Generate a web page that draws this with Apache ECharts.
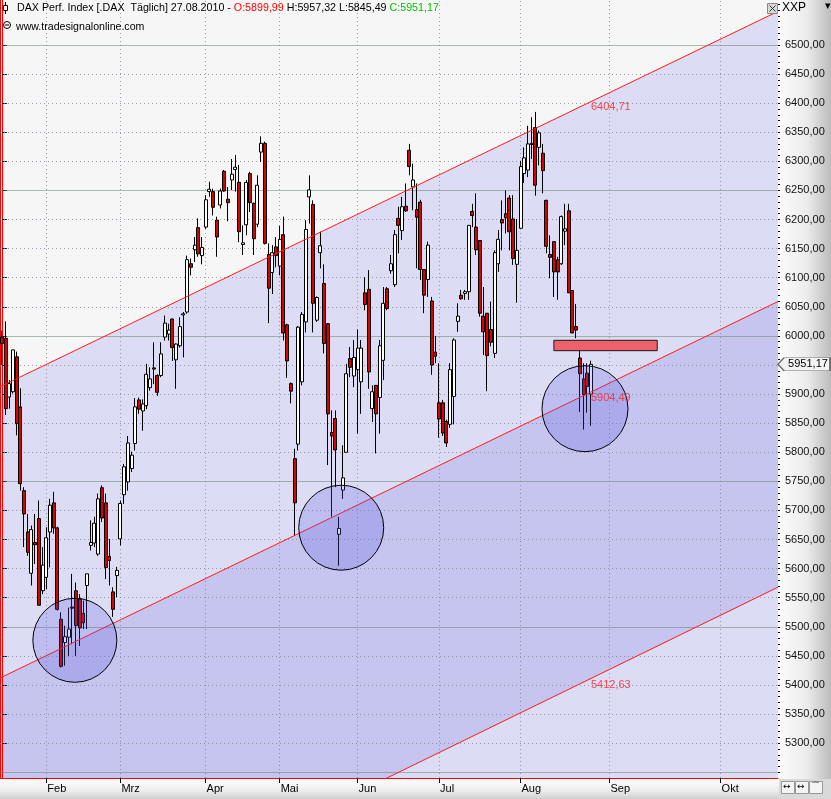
<!DOCTYPE html>
<html><head><meta charset="utf-8">
<script src="https://cdn.jsdelivr.net/npm/echarts@6/dist/echarts.min.js"></script>
<style>html,body{margin:0;padding:0;background:#fff}#c{width:831px;height:799px}</style>
</head><body><div id="c"></div>
<script>
const FONT = '"Liberation Sans", Arial, sans-serif';

// ---- daily candles (DAX), 14.01.2010 .. 27.08.2010 ----
const opens = [5998,5996,5895,5904,5964,5878,5734,5663,5592,5645,
5686,5562,5585,5663,5713,5670,5513,5473,5482,5534,
5562,5548,5523,5571,5640,5644,5625,5739,5713,5621,
5560,5588,5651,5727,5749,5772,5815,5890,5871,5880,
5911,5945,5932,5932,5998,6003,6029,5959,5983,6036,
6041,6124,6148,6186,6138,6187,6248,6248,6199,6225,
6283,6235,6268,6286,6264,6157,6191,6279,6228,6192,
6316,6331,6140,6109,6153,6120,6174,6019,5918,5789,
5814,5921,6024,6239,6226,6027,6143,6090,6021,5834,
5858,5659,5735,5800,5961,5931,5942,5921,6074,6080,
5875,5915,5894,5958,6081,6112,6088,6202,6181,6223,
6319,6256,6217,6230,6114,6097,6060,5972,5885,5885,
5853,5848,5896,6025,6070,6073,6076,6214,6187,6164,
6034,6039,6011,5970,6124,6200,6210,6237,6201,6123,
6185,6279,6285,6329,6358,6324,6314,6233,6140,6162,
6131,6124,6180,6215,6078,6016,5962,5926,5936,5899.99];
const highs = [6009,6025,5924,5976,5973,5910,5740,5694,5674,5694,
5717,5637,5671,5720,5732,5672,5525,5502,5533,5591,
5576,5556,5545,5591,5683,5689,5729,5743,5729,5651,
5568,5603,5717,5780,5828,5801,5893,5894,5891,5952,
5946,5989,5934,5989,6035,6021,6030,5987,6032,6041,
6138,6133,6170,6202,6170,6242,6265,6253,6205,6253,
6285,6256,6304,6311,6294,6190,6268,6282,6229,6276,
6343,6334,6159,6156,6170,6189,6205,6021,5920,5806,
6017,6041,6199,6276,6233,6068,6179,6123,6022,5872,
5872,5689,5812,5952,5981,5993,6011,5993,6101,6113,
5915,5915,5993,6084,6084,6139,6182,6222,6239,6262,
6330,6296,6262,6234,6114,6162,6067,6000,5953,5890,
5856,5953,5996,6056,6079,6079,6190,6227,6245,6164,
6084,6039,6059,6147,6182,6233,6250,6242,6242,6201,
6301,6324,6361,6376,6385,6353,6330,6234,6173,6162,
6136,6207,6227,6227,6078,6055,5976,5953,5953,5957.32];
const lows = [5950,5864,5875,5901,5829,5734,5637,5622,5571,5608,
5537,5556,5565,5602,5660,5528,5430,5433,5450,5470,
5450,5467,5496,5496,5631,5637,5622,5680,5582,5571,
5517,5551,5640,5711,5734,5766,5803,5866,5837,5874,
5906,5917,5897,5929,5992,5992,5957,5909,5980,5963,
6038,6104,6127,6136,6123,6184,6239,6207,6136,6219,
6248,6197,6251,6248,6161,6139,6173,6213,6139,6187,
6299,6157,6022,6072,6118,6104,5992,5928,5884,5657,
5803,5915,6006,6193,6006,6024,6116,5970,5778,5689,
5740,5605,5720,5800,5929,5912,5832,5866,6044,5909,
5852,5798,5832,5924,6044,6107,6084,6142,6165,6213,
6276,6216,6116,6096,6039,6067,5933,5953,5825,5828,
5809,5842,5848,6007,6062,6062,6062,6187,6139,6033,
5967,5905,5982,5962,6110,6147,6176,6147,6122,6057,
6185,6263,6273,6304,6241,6293,6245,6142,6099,6067,
6062,6122,6156,6074,6005,5996,5869,5839,5868,5845.49];
const closes = [5987,5875,5918,5976,5849,5746,5694,5628,5667,5641,
5537,5606,5653,5709,5670,5530,5432,5483,5496,5532,
5502,5498,5507,5591,5645,5678,5720,5687,5602,5614,
5530,5597,5712,5775,5816,5795,5878,5874,5883,5934,
5926,5943,5903,5969,6022,6010,5980,5986,6016,6038,
6131,6118,6156,6141,6152,6234,6252,6221,6170,6249,
6249,6229,6278,6290,6179,6160,6264,6229,6167,6259,
6331,6159,6082,6143,6138,6166,6005,5957,5905,5713,
6015,6037,6183,6251,6056,6066,6155,5987,5866,5828,
5804,5669,5756,5935,5946,5963,5979,5979,6054,5938,
5904,5866,5983,6056,6047,6124,6174,6190,6222,6215,
6291,6268,6204,6114,6070,6156,5950,5965,5857,5833,
5816,5942,5993,6034,6064,6076,6190,6207,6148,6039,
6007,5966,5989,6143,6166,6194,6203,6179,6133,6147,
6291,6306,6330,6331,6259,6349,6284,6154,6135,6110,
6110,6205,6184,6074,6005,6010,5935,5899,5913,5951.17];

// ---- x axis: trading days, then calendar days into the future ----
const firstDay = '2010-01-14';
const lastTradingDay = '2010-08-27';
const holidays = ['2010-04-02', '2010-04-05'];
const futureDays = 50;
const monthNames = ['Jan','Feb','Mrz','Apr','Mai','Jun','Jul','Aug','Sep','Okt','Nov','Dez'];

// ---- y axis ----
const yMin = 5240.1, yMax = 6577.35;
const yLabelValues = [5300,5350,5400,5450,5500,5550,5600,5650,5700,5750,5800,5850,5900,5950,
  6000,6050,6100,6150,6200,6250,6300,6350,6400,6450,6500];
const yMajorLines = [5250,5500,5750,6000,6250,6500];

// ---- channel (values at left / right plot edge, slot -0.5 / 209.5) ----
const channelStart = [5912.6, 5411.9, 4915.6];
const channelEnd = [6557.8, 6059.1, 5568.1];
const channelLabelValues = [6404.71, 5904.49, 5412.63];
const channelLabelSlot = 159;

// ---- drawing annotations ----
const circleCenters = [[19.7, 5476.8], [91.6, 5670.3], [157.4, 5874.9]];
const circleSizes = [84, 85, 86];
const gapZone = [[149, 5992.4], [176.9, 5974.6]];

// ---------------------------------------------------------------
const fmt2 = v => v.toFixed(2).replace('.', ',');
function iso(d) { return d.toISOString().slice(0, 10); }
const categories = [];
{
  let d = new Date(firstDay + 'T00:00:00Z');
  const end = new Date(lastTradingDay + 'T00:00:00Z');
  while (d <= end) {
    const wd = d.getUTCDay(), s = iso(d);
    if (wd !== 0 && wd !== 6 && !holidays.includes(s)) categories.push(s);
    d = new Date(d.getTime() + 86400000);
  }
  for (let k = 0; k < futureDays; k++) { categories.push(iso(d)); d = new Date(d.getTime() + 86400000); }
}
const N = categories.length;
const monthStarts = [];
for (let i = 1; i < N; i++) if (categories[i].slice(5, 7) !== categories[i - 1].slice(5, 7)) monthStarts.push(i);
const isMonthStart = i => monthStarts.includes(i);

const minorTicks = [];
for (let v = 5250; v <= 6570; v += 10) minorTicks.push(v);

const candleData = opens.map((o, i) => [o, closes[i], lows[i], highs[i]]);
const last = opens.length - 1;

const gridLineData = [];
yLabelValues.concat([5250]).forEach(v => {
  if (!yMajorLines.includes(v)) gridLineData.push({ yAxis: v, lineStyle: { color: 'rgba(120,120,140,0.7)', type: [1, 3], width: 1 } });
});
yMajorLines.forEach(v => gridLineData.push({ yAxis: v, lineStyle: { color: 'rgba(95,125,100,0.5)', type: 'solid', width: 1 } }));
monthStarts.forEach(i => gridLineData.push({ xAxis: i, lineStyle: { color: 'rgba(120,120,140,0.7)', type: [1, 3], width: 1 } }));

const bandColors = ['#dcdcf4', '#c5c5f0', '#dcdcf4'];
const bandSeries = [0, 1, 2].map(k => ({
  type: 'line', xAxisIndex: 1, yAxisIndex: 0, silent: true, z: 0,
  data: [[-0.5, channelStart[k]], [N - 0.5, channelEnd[k]]],
  symbol: 'none', lineStyle: { width: 0, opacity: 0 },
  areaStyle: { color: bandColors[k], opacity: 1, origin: 'start' }
}));
const channelLines = [0, 1, 2].map(k => ({
  type: 'line', xAxisIndex: 1, yAxisIndex: 0, silent: true, z: 4,
  data: [[-0.5, channelStart[k]], [N - 0.5, channelEnd[k]]],
  symbol: 'none', lineStyle: { width: 1, color: '#ff1a1a' }
}));

const chart = echarts.init(document.getElementById('c'), null, { renderer: 'canvas' });
const option = {
  animation: false,
  backgroundColor: '#ffffff',
  title: [{
    left: 12, top: -2,
    text: '{n|DAX Perf. Index [.DAX  Täglich] 27.08.2010 - }{o|O:' + fmt2(opens[last]) + '}{n| H:' + fmt2(highs[last]) + ' L:' + fmt2(lows[last]) + ' }{c|C:' + fmt2(closes[last]) + '}',
    textStyle: {
      fontFamily: FONT, fontSize: 10.7, fontWeight: 'normal', color: '#000',
      rich: {
        n: { fontFamily: FONT, fontSize: 10.7, color: '#000' },
        o: { fontFamily: FONT, fontSize: 10.7, color: '#ff0000' },
        c: { fontFamily: FONT, fontSize: 10.7, color: '#00c000' }
      }
    }
  }, {
    left: 11, top: 17, text: 'www.tradesignalonline.com',
    textStyle: { fontFamily: FONT, fontSize: 10.6, fontWeight: 'normal', color: '#000' }
  }],
  grid: { left: 0, right: 53, top: 0, bottom: 21, show: true, backgroundColor: '#f6f6f6', borderWidth: 0 },
  xAxis: [{
    type: 'category', data: categories, boundaryGap: true,
    axisLine: { show: true, lineStyle: { color: '#ff0000', width: 1 } },
    axisTick: { show: true, alignWithLabel: true, interval: (i) => isMonthStart(i), length: 5, lineStyle: { color: '#000' } },
    axisLabel: {
      interval: (i) => isMonthStart(i),
      formatter: (val) => monthNames[parseInt(val.slice(5, 7), 10) - 1],
      align: 'left', margin: 5, padding: [0, 0, 0, 1],
      fontFamily: FONT, fontSize: 11, color: '#000'
    },
    splitLine: { show: false }
  }, {
    type: 'value', min: -0.5, max: N - 0.5, show: false
  }],
  yAxis: [{
    type: 'value', min: yMin, max: yMax, position: 'right', scale: true,
    axisLine: { show: true, lineStyle: { color: '#ff0000', width: 1 } },
    axisTick: { show: true, customValues: yLabelValues, length: 5, lineStyle: { color: '#000' } },
    axisLabel: { customValues: yLabelValues, formatter: v => fmt2(v), margin: 7, fontFamily: FONT, fontSize: 11, color: '#111' },
    splitLine: { show: false }
  }, {
    type: 'value', min: yMin, max: yMax, position: 'right', scale: true,
    axisLine: { show: false },
    axisTick: { show: true, customValues: minorTicks, length: 2, lineStyle: { color: '#000' } },
    axisLabel: { show: false }, splitLine: { show: false }
  }, {
    type: 'value', min: yMin, max: yMax, position: 'left', scale: true,
    axisLine: { show: true, lineStyle: { color: '#ff0000', width: 2 } },
    axisTick: { show: false }, axisLabel: { show: false }, splitLine: { show: false }
  }],
  graphic: [
    { type: 'rect', z: -10, shape: { x: 779, y: 0, width: 52, height: 779 },
      style: { fill: new echarts.graphic.LinearGradient(0, 0, 1, 0, [{ offset: 0, color: '#fcfcfc' }, { offset: 0.55, color: '#ebebeb' }, { offset: 1, color: '#bcbcbc' }]) } },
    { type: 'rect', z: -10, shape: { x: 0, y: 779, width: 779, height: 20 },
      style: { fill: new echarts.graphic.LinearGradient(0, 0, 0, 1, [{ offset: 0, color: '#fdfdfd' }, { offset: 0.6, color: '#ececec' }, { offset: 1, color: '#cfcfcf' }]) } },
    { type: 'rect', z: -9, shape: { x: 779, y: 779, width: 52, height: 20 }, style: { fill: '#d9d9d9' } },
    { type: 'rect', shape: { x: 781.5, y: 781.5, width: 13, height: 12 }, style: { fill: '#f4f4f4', stroke: '#999' } },
    { type: 'rect', shape: { x: 795.5, y: 781.5, width: 13, height: 12 }, style: { fill: '#f4f4f4', stroke: '#999' } },
    { type: 'rect', shape: { x: 809.5, y: 781.5, width: 13, height: 12 }, style: { fill: '#f4f4f4', stroke: '#999' } },
    { type: 'text', x: 783, y: 782, style: { text: '↔', font: '9px "DejaVu Sans"', fill: '#000' } },
    { type: 'text', x: 797, y: 782, style: { text: '↔', font: '9px "DejaVu Sans"', fill: '#000' } },
    { type: 'text', x: 811, y: 782, style: { text: '⌒', font: '9px "DejaVu Sans"', fill: '#000' } },
    { type: 'text', x: 782, y: 2, style: { text: 'XXP', font: '12px ' + FONT, fill: '#000' } },
    { type: 'text', x: 825, y: 1, style: { text: '▾', font: '11px "DejaVu Sans"', fill: '#000' } },
    { type: 'rect', z: 20, shape: { x: 767.5, y: 3.5, width: 10, height: 10 }, style: { fill: '#d8d8d8', stroke: '#888' } },
    { type: 'line', z: 21, shape: { x1: 769.5, y1: 5.5, x2: 775.5, y2: 11.5 }, style: { stroke: '#333' } },
    { type: 'line', z: 21, shape: { x1: 775.5, y1: 5.5, x2: 769.5, y2: 11.5 }, style: { stroke: '#333' } },
    { type: 'line', z: 21, shape: { x1: 5.5, y1: 2, x2: 5.5, y2: 14 }, style: { stroke: '#000' } },
    { type: 'rect', z: 22, shape: { x: 3.5, y: 5.5, width: 4, height: 5 }, style: { fill: '#fff', stroke: '#000' } },
    { type: 'circle', z: 21, shape: { cx: 7, cy: 25, r: 3.5 }, style: { fill: 'none', stroke: '#000' } },
    { type: 'line', z: 21, shape: { x1: 5, y1: 25, x2: 9, y2: 25 }, style: { stroke: '#000' } }
  ],
  series: [
    ...bandSeries,
    { type: 'line', xAxisIndex: 1, yAxisIndex: 0, data: [], silent: true,
      markLine: { z: 1, silent: true, symbol: 'none', label: { show: false }, animation: false, data: gridLineData } },
    {
      type: 'candlestick', xAxisIndex: 0, yAxisIndex: 0, z: 3, data: candleData, barWidth: 3.5,
      itemStyle: { color: '#ffffff', color0: '#dd0000', borderColor: '#000', borderColor0: '#000', borderColorDoji: '#000', borderWidth: 1 }
    },
    ...channelLines,
    {
      type: 'scatter', xAxisIndex: 1, yAxisIndex: 0, z: 5, silent: true,
      data: circleCenters.map((c, i) => ({ value: c, symbolSize: circleSizes[i] })),
      itemStyle: { color: 'rgba(80,80,225,0.22)', borderColor: '#000', borderWidth: 1, opacity: 1 },
      markArea: { z: 6, silent: true, itemStyle: { color: '#f0606a', borderColor: '#1a1a1a', borderWidth: 1 },
        data: [[{ coord: gapZone[0] }, { coord: gapZone[1] }]] }
    },
    {
      type: 'scatter', xAxisIndex: 1, yAxisIndex: 0, z: 7, silent: true, symbolSize: 0,
      data: channelLabelValues.map(v => [channelLabelSlot, v]),
      label: { show: true, position: 'right', distance: 0, offset: [0, 7], formatter: p => fmt2(p.value[1]),
        fontFamily: FONT, fontSize: 11, color: '#ff2020' },
      markPoint: {
        z: 7, silent: true,
        symbol: 'path://M0,6 L6,0 L52,0 L52,12 L6,12 Z', symbolKeepAspect: false,
        symbolSize: [52, 13], symbolOffset: [26, 0],
        itemStyle: { color: '#f3f3f3', borderColor: '#707070', borderWidth: 1 },
        label: { show: true, position: 'inside', offset: [4, 0], formatter: () => fmt2(closes[last]), fontFamily: FONT, fontSize: 11, color: '#000' },
        data: [{ coord: [N - 0.5, closes[last]] }]
      }
    }
  ]
};
chart.setOption(option);
</script>
</body></html>
